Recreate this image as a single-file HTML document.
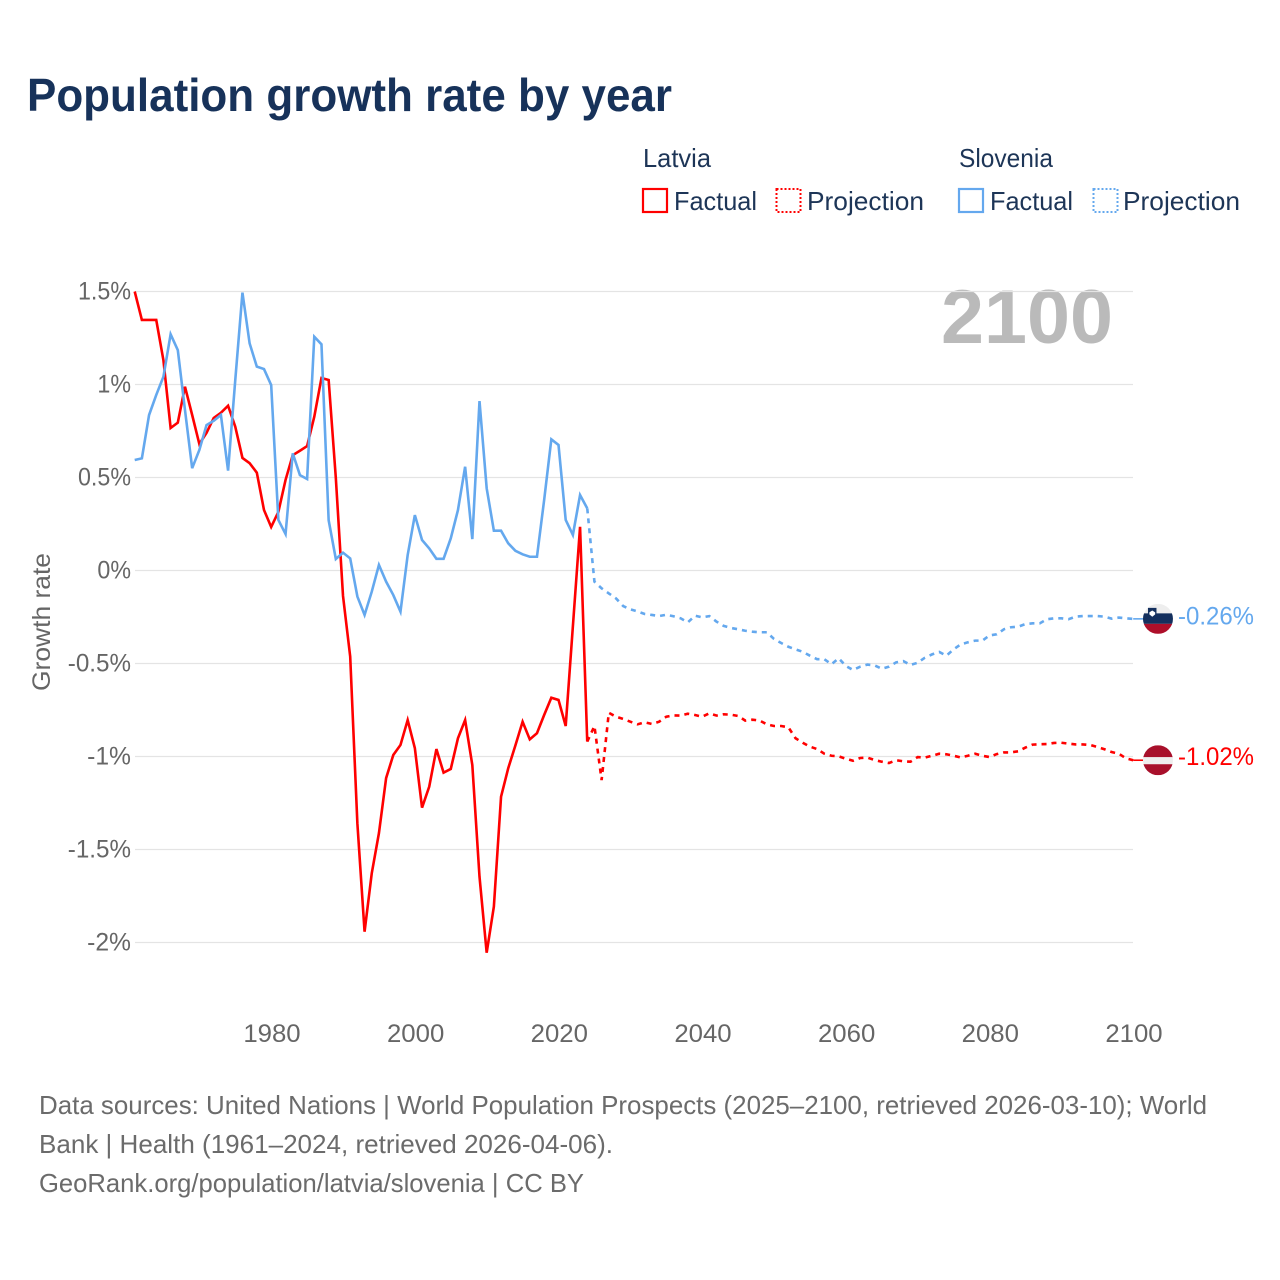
<!DOCTYPE html>
<html lang="en">
<head>
<meta charset="utf-8">
<title>Population growth rate by year</title>
<style>
html,body{margin:0;padding:0;background:#fff;}
svg{display:block;font-family:"Liberation Sans",sans-serif;}
</style>
</head>
<body>
<svg id="chart" width="1280" height="1280" viewBox="0 0 1280 1280" xmlns="http://www.w3.org/2000/svg">
  <rect width="1280" height="1280" fill="#fff"/>
  <text x="27" y="111" font-size="46" font-weight="700" fill="#17325a" textLength="645" lengthAdjust="spacingAndGlyphs">Population growth rate by year</text>

  <g font-size="26" fill="#1d3557">
    <text x="643" y="167" textLength="68" lengthAdjust="spacingAndGlyphs">Latvia</text>
    <rect x="643" y="189" width="24" height="23" fill="none" stroke="#ff0000" stroke-width="2.2"/>
    <text x="674" y="210" textLength="83" lengthAdjust="spacingAndGlyphs">Factual</text>
    <rect x="776.5" y="189" width="24" height="23" fill="none" stroke="#ff0000" stroke-width="2" stroke-dasharray="2 2"/>
    <text x="807" y="210" textLength="117" lengthAdjust="spacingAndGlyphs">Projection</text>
    <text x="959" y="167" textLength="94" lengthAdjust="spacingAndGlyphs">Slovenia</text>
    <rect x="959" y="189" width="24" height="23" fill="none" stroke="#64a8ee" stroke-width="2.2"/>
    <text x="990" y="210" textLength="83" lengthAdjust="spacingAndGlyphs">Factual</text>
    <rect x="1093.5" y="189" width="24" height="23" fill="none" stroke="#64a8ee" stroke-width="2" stroke-dasharray="2 2"/>
    <text x="1123" y="210" textLength="117" lengthAdjust="spacingAndGlyphs">Projection</text>
  </g>

  <text x="941" y="343" font-size="76" font-weight="700" fill="#bababa" textLength="172" lengthAdjust="spacingAndGlyphs">2100</text>
  <text transform="translate(50,622) rotate(-90)" text-anchor="middle" font-size="25" fill="#666" textLength="138" lengthAdjust="spacingAndGlyphs">Growth rate</text>

  <g id="grid"></g>
  <g id="y-ticks" font-size="25" fill="#666"></g>
  <g id="x-ticks" font-size="25" fill="#666"></g>
  <g id="series" fill="none" stroke-width="2.6" stroke-linejoin="miter"></g>

  <defs>
    <clipPath id="clip-si"><circle id="clip-si-c" r="15"/></clipPath>
    <clipPath id="clip-lv"><circle id="clip-lv-c" r="15"/></clipPath>
  </defs>
  <g id="flag-si" clip-path="url(#clip-si)">
    <rect x="-15" y="-15" width="30" height="9.5" fill="#eeeeee"/>
    <rect x="-15" y="-5.5" width="30" height="10.5" fill="#14305e"/>
    <rect x="-15" y="5" width="30" height="10" fill="#ae0f2a"/>
    <path d="M-10-11h8.5v7l-4.2 3.5-4.3-3.5z" fill="#14305e"/>
    <path d="M-8.6-6.5l2.9-1.8 2.9 1.8v2l-2.9 2.4-2.9-2.4z" fill="#fff"/>
  </g>
  <g id="flag-lv" clip-path="url(#clip-lv)">
    <rect x="-15" y="-15" width="30" height="12" fill="#a8102b"/>
    <rect x="-15" y="-3" width="30" height="7" fill="#eeeeee"/>
    <rect x="-15" y="4" width="30" height="11" fill="#a8102b"/>
  </g>
  <text id="end-si" x="1178" font-size="25" fill="#64a8ee" textLength="76" lengthAdjust="spacingAndGlyphs"></text>
  <text id="end-lv" x="1178" font-size="25" fill="#ff0000" textLength="76" lengthAdjust="spacingAndGlyphs"></text>

  <g font-size="26" fill="#6b6b6b">
    <text x="39" y="1114" textLength="1168" lengthAdjust="spacingAndGlyphs">Data sources: United Nations | World Population Prospects (2025–2100, retrieved 2026-03-10); World</text>
    <text x="39" y="1153" textLength="574" lengthAdjust="spacingAndGlyphs">Bank | Health (1961–2024, retrieved 2026-04-06).</text>
    <text x="39" y="1192" textLength="545" lengthAdjust="spacingAndGlyphs">GeoRank.org/population/latvia/slovenia | CC BY</text>
  </g>
</svg>
<script>
const factualStartYear = 1961;
const projectionStartYear = 2024;
const yTicks = [1.5, 1, 0.5, 0, -0.5, -1, -1.5, -2];
const yTickLabels = ["1.5%", "1%", "0.5%", "0%", "-0.5%", "-1%", "-1.5%", "-2%"];
const xTicks = [1980, 2000, 2020, 2040, 2060, 2080, 2100];
const xTickLabels = ["1980", "2000", "2020", "2040", "2060", "2080", "2100"];

const latviaFactual = [1.5,1.347,1.347,1.347,1.13,0.766,0.795,0.988,0.836,0.68,0.74,0.82,0.848,0.886,0.773,0.605,0.577,0.526,0.325,0.234,0.315,0.487,0.62,0.644,0.669,0.827,1.035,1.024,0.497,-0.137,-0.463,-1.36,-1.942,-1.628,-1.412,-1.116,-0.992,-0.938,-0.804,-0.955,-1.275,-1.162,-0.96,-1.087,-1.067,-0.902,-0.804,-1.046,-1.646,-2.055,-1.807,-1.216,-1.063,-0.94,-0.813,-0.908,-0.875,-0.777,-0.684,-0.696,-0.836,-0.3,0.235,-0.92];
const sloveniaFactual = [0.594,0.603,0.836,0.944,1.042,1.27,1.185,0.863,0.55,0.648,0.782,0.805,0.836,0.537,1.024,1.494,1.221,1.096,1.083,0.997,0.272,0.196,0.63,0.513,0.492,1.257,1.216,0.27,0.062,0.096,0.065,-0.14,-0.239,-0.114,0.03,-0.06,-0.132,-0.221,0.083,0.298,0.164,0.119,0.063,0.063,0.173,0.325,0.558,0.169,0.911,0.442,0.214,0.214,0.146,0.106,0.087,0.074,0.074,0.379,0.705,0.675,0.272,0.191,0.406,0.334];
const latviaProjection = [-0.92,-0.836,-1.127,-0.765,-0.786,-0.798,-0.813,-0.827,-0.816,-0.825,-0.813,-0.786,-0.779,-0.78,-0.77,-0.777,-0.786,-0.768,-0.78,-0.773,-0.775,-0.782,-0.807,-0.802,-0.807,-0.827,-0.836,-0.836,-0.843,-0.902,-0.926,-0.947,-0.96,-0.985,-0.996,-0.999,-1.012,-1.023,-1.008,-1.006,-1.019,-1.028,-1.035,-1.02,-1.026,-1.028,-1.003,-1.006,-0.996,-0.985,-0.988,-0.996,-1.005,-0.996,-0.985,-0.996,-1.003,-0.987,-0.978,-0.978,-0.972,-0.952,-0.936,-0.934,-0.933,-0.927,-0.926,-0.931,-0.935,-0.935,-0.938,-0.949,-0.961,-0.976,-0.985,-1.01,-1.02];
const sloveniaProjection = [0.334,-0.06,-0.096,-0.123,-0.15,-0.191,-0.209,-0.22,-0.234,-0.239,-0.245,-0.238,-0.246,-0.257,-0.279,-0.243,-0.252,-0.245,-0.275,-0.298,-0.309,-0.316,-0.324,-0.329,-0.332,-0.332,-0.368,-0.39,-0.41,-0.424,-0.437,-0.458,-0.477,-0.477,-0.504,-0.472,-0.513,-0.535,-0.517,-0.506,-0.51,-0.528,-0.517,-0.494,-0.487,-0.508,-0.496,-0.469,-0.451,-0.438,-0.458,-0.424,-0.397,-0.386,-0.377,-0.377,-0.349,-0.343,-0.316,-0.305,-0.302,-0.288,-0.284,-0.284,-0.262,-0.257,-0.257,-0.262,-0.248,-0.245,-0.245,-0.245,-0.248,-0.259,-0.253,-0.257,-0.26];
const latviaEndLabel = "-1.02%";
const sloveniaEndLabel = "-0.26%";

const SVGNS = "http://www.w3.org/2000/svg";
function xScale(year) { return 134.7 + (year - 1961) * 7.1833; }
function yScale(value) { return 570.5 - value * 186; }
function make(tag, attrs, parent) {
  const el = document.createElementNS(SVGNS, tag);
  Object.keys(attrs).forEach(function (k) { el.setAttribute(k, attrs[k]); });
  parent.appendChild(el);
  return el;
}
function fit(el, factor, extra) {
  el.setAttribute("textLength", (el.getComputedTextLength() * factor + extra).toFixed(1));
  el.setAttribute("lengthAdjust", "spacingAndGlyphs");
}
function linePath(values, startYear) {
  return values.map(function (v, i) {
    return (i ? "L" : "M") + xScale(startYear + i).toFixed(2) + " " + yScale(v).toFixed(2);
  }).join("");
}

const grid = document.getElementById("grid");
const yAxis = document.getElementById("y-ticks");
const xAxis = document.getElementById("x-ticks");
const series = document.getElementById("series");

yTicks.forEach(function (t, i) {
  const line = make("line", { x1: 135, x2: 1133, y1: yScale(t), y2: yScale(t), stroke: "#e4e4e4", "stroke-width": 1.2 }, grid);
  
  
  const label = make("text", { x: 131, y: yScale(t) + 8, "text-anchor": "end" }, yAxis);
  
  
  label.textContent = yTickLabels[i];
  fit(label, 0.93, t < 0 ? 2.5 : 0);
});

xTicks.forEach(function (t, i) {
  const label = make("text", { x: xScale(t) + 0.8, y: 1042, "text-anchor": "middle" }, xAxis);
  
  
  label.textContent = xTickLabels[i];
  fit(label, 1.03, 0);
});

const projSi = make("path", { d: linePath(sloveniaProjection, projectionStartYear), stroke: "#64a8ee", "stroke-dasharray": "5 5" }, series);


const projLv = make("path", { d: linePath(latviaProjection, projectionStartYear), stroke: "#ff0000", "stroke-dasharray": "5 5" }, series);


const factLv = make("path", { d: linePath(latviaFactual, factualStartYear), stroke: "#ff0000" }, series);


const factSi = make("path", { d: linePath(sloveniaFactual, factualStartYear), stroke: "#64a8ee" }, series);



const flagX = xScale(2100) + 24.8;
const lastSi = sloveniaProjection[sloveniaProjection.length - 1];
const lastLv = latviaProjection[latviaProjection.length - 1];
const connSi = make("line", { x1: xScale(2100), x2: flagX - 14, y1: yScale(lastSi), y2: yScale(lastSi), stroke: "#64a8ee", "stroke-width": 1.6 }, series);


const connLv = make("line", { x1: xScale(2100), x2: flagX - 14, y1: yScale(lastLv), y2: yScale(lastLv), stroke: "#ff0000", "stroke-width": 1.6 }, series);



document.getElementById("flag-si").setAttribute("transform", "translate(" + flagX + "," + yScale(lastSi) + ")");
document.getElementById("flag-lv").setAttribute("transform", "translate(" + flagX + "," + yScale(lastLv) + ")");
const endSi = document.getElementById("end-si");
endSi.setAttribute("y", yScale(lastSi) + 5.5);
endSi.textContent = sloveniaEndLabel;
const endLv = document.getElementById("end-lv");
endLv.setAttribute("y", yScale(lastLv) + 5);
endLv.textContent = latviaEndLabel;
</script>
</body>
</html>
